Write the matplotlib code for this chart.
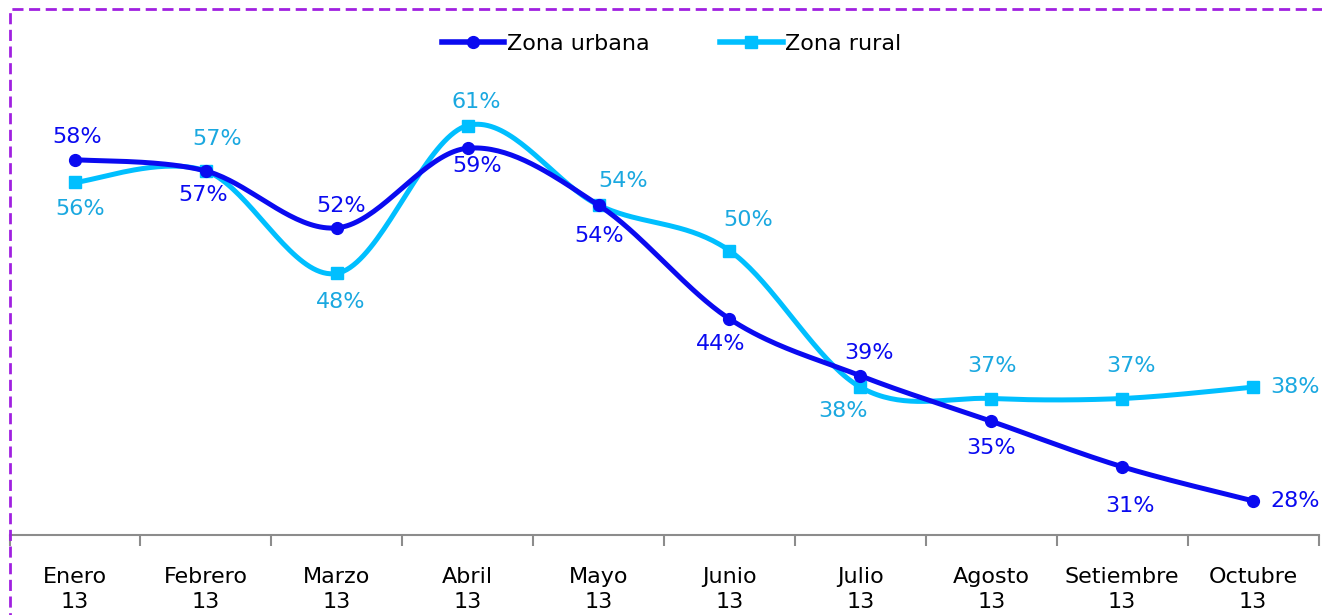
import matplotlib.pyplot as plt
import numpy as np
from matplotlib.patches import Rectangle

meses = ["Enero\n13", "Febrero\n13", "Marzo\n13", "Abril\n13", "Mayo\n13",
         "Junio\n13", "Julio\n13", "Agosto\n13", "Setiembre\n13", "Octubre\n13"]
urbana = [58, 57, 52, 59, 54, 44, 39, 35, 31, 28]
rural = [56, 57, 48, 61, 54, 50, 38, 37, 37, 38]

# offsets de etiquetas (pixeles)
off_urb = [(2, 23), (-3, -24), (4, 22), (9, -18), (1, -31), (-9, -25), (9, 23), (0, -27), (8, -39), (42, 0)]
off_rur = [(5, -27), (11, 32), (4, -29), (9, 24), (25, 24), (19, 31), (-17, -24), (1, 33), (9, 33), (42, 0)]

AZUL = "#0A0AF0"
CELESTE = "#00BFFF"
CELESTE_TXT = "#1AA8E0"
FS = 16


def suave(y, n=40):
    # curva suavizada tipo Excel (Catmull-Rom)
    x = np.arange(len(y), dtype=float)
    p = np.column_stack([x, np.array(y, dtype=float)])
    p = np.vstack([p[0], p, p[-1]])
    out = []
    for i in range(1, len(p) - 2):
        p0, p1, p2, p3 = p[i - 1], p[i], p[i + 1], p[i + 2]
        t = np.linspace(0, 1, n)[:, None]
        c = 0.5 * (2 * p1 + (-p0 + p2) * t + (2 * p0 - 5 * p1 + 4 * p2 - p3) * t ** 2
                   + (-p0 + 3 * p1 - 3 * p2 + p3) * t ** 3)
        out.append(c)
    c = np.vstack(out)
    return c[:, 0], c[:, 1]


plt.rcParams["font.family"] = ["DejaVu Sans"]
fig = plt.figure(figsize=(13.22, 6.15), dpi=100)
ax = fig.add_axes([9.5 / 1322, (615 - 535) / 615, 1309 / 1322, (535 - 80) / 615])

x = np.arange(len(meses))
for vals, col, mk, ms in [(rural, CELESTE, "s", 8), (urbana, AZUL, "o", 8.5)]:
    sx, sy = suave(vals)
    ax.plot(sx, sy, color=col, lw=3.6, solid_capstyle="round")
    ax.plot(x, vals, mk, color=col, ms=ms)

for i in range(len(x)):
    ax.annotate(f"{urbana[i]}%", (x[i], urbana[i]), xytext=off_urb[i], textcoords="offset pixels",
                ha="center", va="center", color=AZUL, fontsize=FS)
    ax.annotate(f"{rural[i]}%", (x[i], rural[i]), xytext=off_rur[i], textcoords="offset pixels",
                ha="center", va="center", color=CELESTE_TXT, fontsize=FS)

# leyenda
h1, = ax.plot([], [], color=AZUL, lw=4, marker="o", ms=8.5)
h2, = ax.plot([], [], color=CELESTE, lw=4, marker="s", ms=8)
fig.legend([h1, h2], ["Zona urbana", "Zona rural"], loc="center", bbox_to_anchor=(0.508, 1 - 44 / 615),
           ncol=2, frameon=False, fontsize=FS, handlelength=2.8, handletextpad=0.1, columnspacing=3.2)

ax.set_xlim(-0.5, 9.5)
ax.set_ylim(25, 65)
ax.set_xticks(x)
ax.set_xticklabels(meses, fontsize=FS, linespacing=1.3)
ax.set_xticks(np.arange(-0.5, 10, 1), minor=True)
ax.tick_params(axis="x", which="major", length=0, pad=23)
ax.tick_params(axis="x", which="minor", length=8, width=1.5, color="#8C8C8C")
ax.set_yticks([])
for s in ["top", "right", "left"]:
    ax.spines[s].set_visible(False)
ax.spines["bottom"].set_color("#8C8C8C")
ax.spines["bottom"].set_linewidth(1.5)

# borde punteado morado
fig.patches.append(Rectangle((10 / 1322, -0.05), 1.1, 1 - 9 / 615 + 0.05, transform=fig.transFigure,
                             fill=False, edgecolor="#A020E0", lw=2, ls=(0, (4, 2)), clip_on=False))

fig.savefig("out.png", dpi=100)
